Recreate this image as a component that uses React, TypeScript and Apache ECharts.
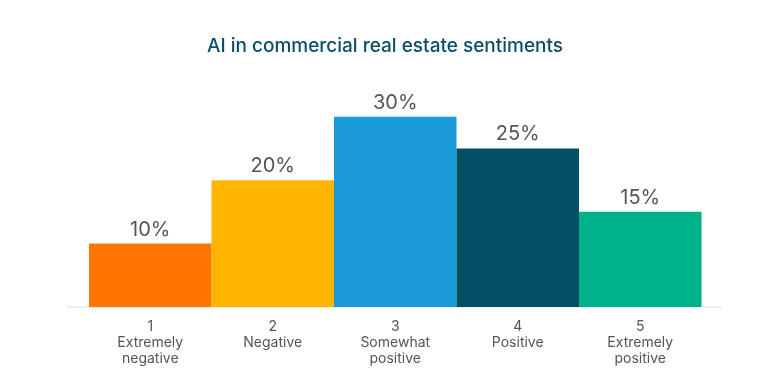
import React, { useEffect, useRef } from "react";
import * as echarts from "echarts";

const title = "AI in commercial real estate sentiments";
const categories = ["1\nExtremely\nnegative", "2\nNegative", "3\nSomewhat\npositive", "4\nPositive", "5\nExtremely\npositive"];
const values = [10, 20, 30, 25, 15];
const colors = ["#FF7500", "#FFB400", "#1A9AD6", "#044E66", "#00B28A"];

const FONT = "Inter";

export default function App() {
  const ref = useRef<HTMLDivElement>(null);
  useEffect(() => {
    if (!ref.current) return;
    const chart = echarts.init(ref.current, undefined, { renderer: "svg" });
    chart.setOption({
      animation: false,
      title: {
        text: title,
        left: "center",
        top: 31,
        textStyle: { fontFamily: FONT, fontSize: 19, fontWeight: 500, color: "#0B4F66" },
      },
      grid: { left: 89, right: 68.5, top: 116.7, bottom: 83 },
      xAxis: {
        type: "category",
        data: categories,
        axisLine: { show: false },
        axisTick: { show: false },
        axisLabel: {
          interval: 0,
          margin: 10,
          fontFamily: FONT,
          fontSize: 14,
          lineHeight: 16,
          color: "#555555",
        },
      },
      yAxis: {
        type: "value",
        min: 0,
        max: 30,
        show: false,
        splitLine: { show: false },
      },
      graphic: [
        {
          type: "line",
          shape: { x1: 66.5, y1: 307, x2: 722, y2: 307 },
          style: { stroke: "#DDDDDD", lineWidth: 1 },
          z: 0,
        },
      ],
      series: [
        {
          type: "bar",
          data: values.map((v, i) => ({ value: v, itemStyle: { color: colors[i] } })),
          barWidth: "100%",
          z: 2,
          label: {
            show: true,
            position: "top",
            distance: 5,
            formatter: "{c}%",
            fontFamily: FONT,
            fontSize: 20,
            color: "#555555",
          },
        },
      ],
    });
    return () => chart.dispose();
  }, []);
  return <div ref={ref} style={{ position: "fixed", left: 0, top: 0, width: 770, height: 390 }} />;
}
